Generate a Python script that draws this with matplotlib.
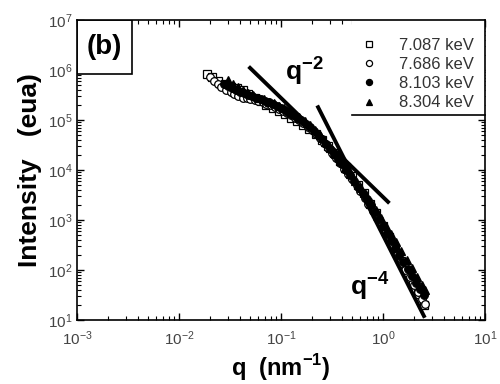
import matplotlib
matplotlib.use("Agg")
import matplotlib.pyplot as plt
from matplotlib.patches import Rectangle

plt.rcParams['font.family'] = ['Liberation Sans', 'DejaVu Sans']
plt.rcParams['mathtext.fontset'] = 'custom'
plt.rcParams['mathtext.bf'] = 'Liberation Sans:bold'
plt.rcParams['mathtext.rm'] = 'Liberation Sans'

# 7.087 keV (open squares)
q_7087 = [0.019, 0.021, 0.024, 0.028, 0.032, 0.037, 0.042, 0.048, 0.055, 0.063,
          0.072, 0.083, 0.095, 0.11, 0.125, 0.145, 0.165, 0.19, 0.22, 0.25,
          0.29, 0.33, 0.38, 0.43, 0.5, 0.57, 0.65, 0.75, 0.86, 1.0,
          1.15, 1.3, 1.5, 1.7, 1.95, 2.2, 2.5]
I_7087 = [8.5e5, 7.2e5, 6.0e5, 5.2e5, 4.6e5, 4.4e5, 4.0e5, 3.3e5, 2.8e5, 2.4e5,
          2.0e5, 1.74e5, 1.51e5, 1.32e5, 1.12e5, 9.5e4, 7.9e4, 6.6e4, 5.2e4, 4.0e4,
          2.95e4, 2.14e4, 1.51e4, 1.15e4, 7.6e3, 5.0e3, 3.5e3, 2.1e3, 1.4e3, 760,
          450, 280, 150, 93, 52, 33, 20]

# 7.686 keV (open circles)
q_7686 = [0.020, 0.022, 0.024, 0.026, 0.029, 0.032, 0.035, 0.038, 0.042, 0.046,
          0.050, 0.055, 0.060, 0.066, 0.072, 0.079, 0.087, 0.095, 0.105, 0.115,
          0.126, 0.138, 0.151, 0.166, 0.182, 0.20, 0.219, 0.24, 0.263, 0.288,
          0.316, 0.347, 0.38, 0.417, 0.457, 0.50, 0.55, 0.60, 0.66, 0.72,
          0.79, 0.87, 0.95, 1.05, 1.15, 1.26, 1.38, 1.51, 1.66, 1.82,
          2.0, 2.19, 2.4, 2.57]
I_7686 = [7.1e5, 6.0e5, 5.2e5, 4.6e5, 4.0e5, 3.6e5, 3.3e5, 3.0e5, 2.8e5, 2.75e5,
          2.6e5, 2.5e5, 2.35e5, 2.24e5, 2.1e5, 2.0e5, 1.82e5, 1.66e5, 1.51e5, 1.38e5,
          1.23e5, 1.12e5, 1.0e5, 8.7e4, 7.4e4, 6.3e4, 5.2e4, 4.3e4, 3.5e4, 2.75e4,
          2.2e4, 1.74e4, 1.35e4, 1.05e4, 8.3e3, 6.5e3, 5.0e3, 3.8e3, 2.8e3, 2.1e3,
          1.5e3, 1.1e3, 790, 560, 400, 280, 200, 140, 100, 71,
          50, 36, 26, 21]

# 8.103 keV (filled circles)
q_8103 = [0.0275, 0.0302, 0.0331, 0.0363, 0.0398, 0.0437, 0.0479, 0.0525, 0.0575, 0.0631,
          0.0692, 0.0759, 0.0832, 0.0912, 0.1, 0.110, 0.120, 0.132, 0.145, 0.158,
          0.174, 0.191, 0.209, 0.229, 0.251, 0.275, 0.302, 0.331, 0.363, 0.398,
          0.437, 0.479, 0.525, 0.575, 0.631, 0.692, 0.759, 0.832, 0.912, 1.0,
          1.10, 1.20, 1.32, 1.45, 1.58, 1.74, 1.91, 2.09, 2.29, 2.51]
I_8103 = [5.2e5, 4.8e5, 4.4e5, 4.0e5, 3.7e5, 3.4e5, 3.2e5, 2.95e5, 2.75e5, 2.57e5,
          2.4e5, 2.24e5, 2.1e5, 1.9e5, 1.74e5, 1.58e5, 1.41e5, 1.26e5, 1.12e5, 9.8e4,
          8.5e4, 7.2e4, 6.0e4, 5.0e4, 4.1e4, 3.3e4, 2.6e4, 2.1e4, 1.66e4, 1.29e4,
          1.0e4, 7.8e3, 6.0e3, 4.6e3, 3.5e3, 2.6e3, 1.95e3, 1.45e3, 1.05e3, 760,
          550, 400, 280, 200, 145, 105, 76, 55, 42, 32]

# 8.304 keV (filled triangles)
q_8304 = [0.0302, 0.0339, 0.038, 0.0427, 0.0479, 0.0537, 0.0603, 0.0676, 0.0759, 0.0851,
          0.0955, 0.107, 0.120, 0.135, 0.151, 0.170, 0.191, 0.214, 0.240, 0.269,
          0.302, 0.339, 0.380, 0.427, 0.479, 0.537, 0.603, 0.676, 0.759, 0.851,
          0.955, 1.07, 1.20, 1.35, 1.51, 1.70, 1.91, 2.14, 2.40, 2.57]
I_8304 = [6.3e5, 5.2e5, 4.6e5, 4.0e5, 3.5e5, 3.2e5, 2.8e5, 2.57e5, 2.34e5, 2.14e5,
          1.9e5, 1.7e5, 1.51e5, 1.32e5, 1.15e5, 9.5e4, 7.9e4, 6.3e4, 4.9e4, 3.7e4,
          2.8e4, 2.1e4, 1.51e4, 1.12e4, 8.3e3, 6.0e3, 4.4e3, 3.2e3, 2.24e3, 1.58e3,
          1.1e3, 760, 520, 355, 240, 162, 110, 74, 50, 40]

# guide lines for power laws
q2_line = [0.0497, 1.12]
I2_line = [1.1e6, 2.3e3]
q4_line = [0.231, 2.52]
I4_line = [1.8e5, 12]

labels = ["7.087 keV", "7.686 keV", "8.103 keV", "8.304 keV"]

fig = plt.figure(figsize=(5, 3.84), dpi=100)
ax = fig.add_axes([0.154, 0.1667, 0.816, 0.7813])

ms = 5.5
h1, = ax.plot(q_7087, I_7087, 's', ms=ms, mfc='white', mec='black', mew=0.9, label=labels[0])
h2, = ax.plot(q_7686, I_7686, 'o', ms=ms, mfc='white', mec='black', mew=0.9, label=labels[1])
h3, = ax.plot(q_8103, I_8103, 'o', ms=ms, mfc='black', mec='black', mew=0.9, label=labels[2])
h4, = ax.plot(q_8304, I_8304, '^', ms=ms, mfc='black', mec='black', mew=0.9, label=labels[3])

ax.plot(q2_line, I2_line, '-', color='black', lw=2.8)
ax.plot(q4_line, I4_line, '-', color='black', lw=2.8)

ax.set_xscale('log')
ax.set_yscale('log')
ax.set_xlim(1e-3, 10)
ax.set_ylim(10, 1e7)

ax.tick_params(which='both', direction='in', top=True, right=True,
               labelsize=11, labelcolor='#444444')
ax.tick_params(which='major', length=5, width=1)
ax.tick_params(which='minor', length=3, width=0.8)
ax.tick_params(axis='x', pad=7)
for s in ax.spines.values():
    s.set_linewidth(1.2)
    s.set_zorder(8)

ax.set_xlabel(r'q  (nm$^{\mathbf{-1}}$)', fontsize=17, fontweight='bold', labelpad=3)
ax.set_ylabel('Intensity   (eua)', fontsize=19, fontweight='bold', labelpad=4)

# (b) label box
ax.add_patch(Rectangle((0, 0.82), 0.135, 0.18, transform=ax.transAxes,
                       facecolor='white', edgecolor='black', lw=1.2, zorder=5))
ax.text(0.0675, 0.91, '(b)', transform=ax.transAxes, fontsize=20,
        fontweight='bold', ha='center', va='center', zorder=6)

# legend area
ax.add_patch(Rectangle((0.674, 0.683), 0.326, 0.317, transform=ax.transAxes,
                       facecolor='white', edgecolor='none', zorder=5))
ax.plot([0.674, 1.0], [0.683, 0.683], color='black', lw=1.2,
        transform=ax.transAxes, zorder=6, clip_on=False)
leg = ax.legend(handles=[h1, h2, h3, h4], loc='upper right', bbox_to_anchor=(1.01, 0.99),
                frameon=False, fontsize=12, handletextpad=1.2, handlelength=1.2,
                labelspacing=0.25, markerscale=0.8)
leg.set_zorder(7)
for t in leg.get_texts():
    t.set_color('#333333')

ax.text(0.109, 4.6e5, r'q$^{\mathbf{-2}}$', fontsize=19, fontweight='bold',
        ha='left', va='bottom', zorder=4)
ax.text(0.47, 23, r'q$^{\mathbf{-4}}$', fontsize=19, fontweight='bold',
        ha='left', va='bottom', zorder=4)

fig.savefig('out.png', dpi=100)
